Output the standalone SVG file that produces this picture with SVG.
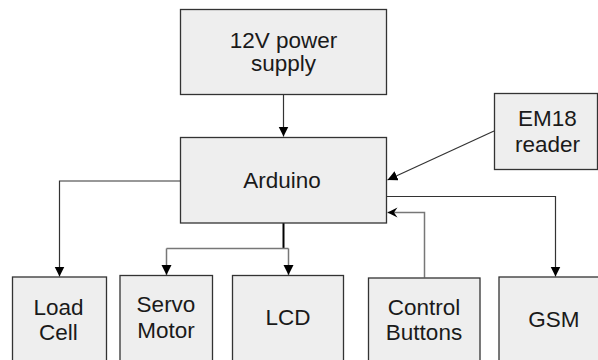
<svg xmlns="http://www.w3.org/2000/svg" width="598" height="360" viewBox="0 0 598 360">
<style>
.box{fill:#eeeeee;stroke:#333333;stroke-width:1.3}
.t{font-family:"Liberation Sans",Arial,sans-serif;font-size:22.5px;fill:#1a1a1a;text-anchor:middle}
.c{fill:none;stroke:#333333;stroke-width:1.2}
.g{fill:none;stroke:#777777;stroke-width:1.5}
.k{fill:none;stroke:#000000;stroke-width:2}
</style>
<defs>
<marker id="ah" markerUnits="userSpaceOnUse" markerWidth="11" markerHeight="11" refX="10" refY="5" orient="auto">
<path d="M0,0 L10,5 L0,10 z" fill="#000"/>
</marker>
<marker id="ab" markerUnits="userSpaceOnUse" markerWidth="11" markerHeight="11" refX="10" refY="5" orient="auto">
<path d="M0,0 L10,5 L0,10 L3.5,5 z" fill="#000"/>
</marker>
</defs>
<rect width="598" height="360" fill="#ffffff"/>
<g id="connectors">
<path class="c" d="M283.5,95 V136.5" marker-end="url(#ah)"/>
<path class="c" d="M180,181 H59.5 V276.5" marker-end="url(#ah)"/>
<path class="k" d="M283.5,223 V249"/>
<path class="g" d="M166.5,248.5 H288.5"/>
<path class="g" d="M166.5,248.5 V275" marker-end="url(#ah)"/>
<path class="g" d="M288.5,248.5 V275" marker-end="url(#ah)"/>
<path class="c" d="M494,131 L387.5,180" marker-end="url(#ah)"/>
<path class="c" d="M387,196.5 H555.5 V276.5" marker-end="url(#ah)"/>
<path class="g" d="M424.5,277.5 V212.5 H387.5" marker-end="url(#ab)"/>
</g>
<g id="power">
<rect class="box" x="180.5" y="9.5" width="206" height="85"/>
<text class="t" x="283.5" y="47.5">12V power</text>
<text class="t" x="283.5" y="71">supply</text>
</g>
<g id="arduino">
<rect class="box" x="180.5" y="137.5" width="206" height="85.5"/>
<text class="t" x="282" y="187.5">Arduino</text>
</g>
<g id="em18">
<rect class="box" x="494.5" y="93.5" width="103" height="76"/>
<text class="t" x="547.5" y="126">EM18</text>
<text class="t" x="547.5" y="151.5">reader</text>
</g>
<g id="loadcell">
<rect class="box" x="12.5" y="277" width="94" height="95"/>
<text class="t" x="58.5" y="315">Load</text>
<text class="t" x="58.5" y="339.5">Cell</text>
</g>
<g id="servo">
<rect class="box" x="120" y="275.5" width="92.5" height="96"/>
<text class="t" x="166" y="312">Servo</text>
<text class="t" x="166" y="337.5">Motor</text>
</g>
<g id="lcd">
<rect class="box" x="232.5" y="275.5" width="111" height="96"/>
<text class="t" x="288" y="325">LCD</text>
</g>
<g id="buttons">
<rect class="box" x="368.5" y="278" width="111.5" height="94"/>
<text class="t" x="424" y="314.5">Control</text>
<text class="t" x="424" y="339.5">Buttons</text>
</g>
<g id="gsm">
<rect class="box" x="499" y="277" width="112" height="95"/>
<text class="t" x="554" y="326.5">GSM</text>
</g>
</svg>
